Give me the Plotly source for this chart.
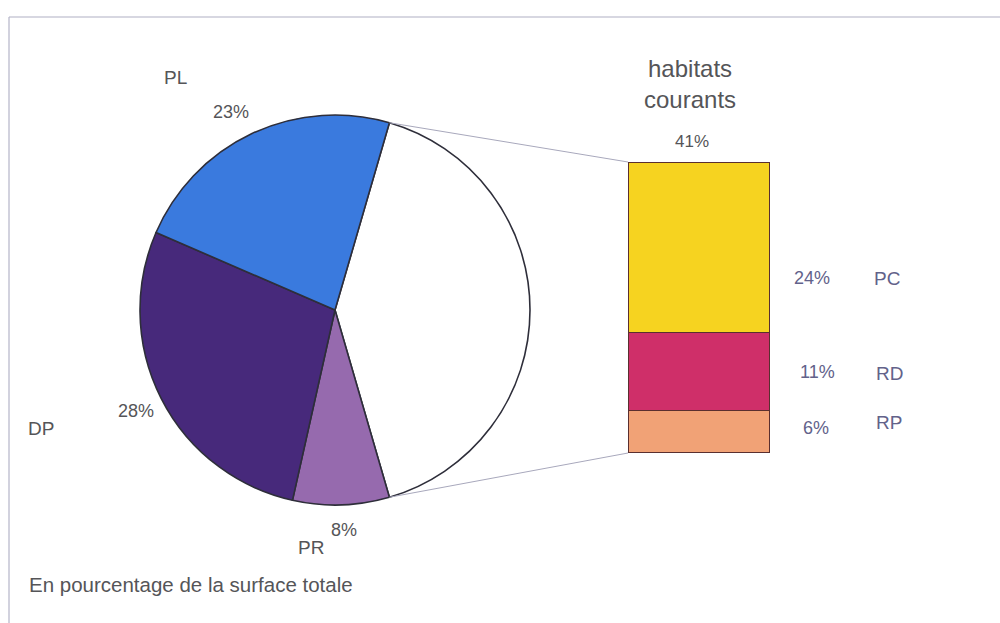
import math
import plotly.graph_objects as go

# Pie: share of total area; the first slice is the group detailed in the bar
pie_labels = ["habitats courants", "PR", "DP", "PL"]
pie_values = [41, 8, 28, 23]
pie_colors = ["#ffffff", "#966aae", "#47297b", "#3a7ade"]

# Breakdown of "habitats courants" (bottom to top)
bar_labels = ["RP", "RD", "PC"]
bar_values = [6, 11, 24]
bar_colors = ["#f1a276", "#cf2f69", "#f6d320"]

footnote = "En pourcentage de la surface totale"

W, H = 1000, 623
FONT = "Liberation Sans, Arial, sans-serif"
TXT = "#555558"
PCT = "#62628a"

def px(x):
    return x / W

def py(y):
    return 1 - y / H

# pie geometry (pixels)
cx, cy, r = 335, 310, 195
# bar geometry (pixels)
bx0, bx1, by0, by1 = 628, 770, 162, 453

total = sum(pie_values)
rot = 90 - pie_values[0] / total * 360 / 2

fig = go.Figure()
fig.add_trace(go.Pie(
    labels=pie_labels, values=pie_values, sort=False,
    direction="clockwise", rotation=rot,
    marker=dict(colors=pie_colors, line=dict(color="#2e2e3a", width=1.6)),
    textinfo="none", hoverinfo="label+percent", showlegend=False,
    domain=dict(x=[px(cx - r), px(cx + r)], y=[py(cy + r), py(cy - r)]),
))

for lab, val, col in zip(bar_labels, bar_values, bar_colors):
    fig.add_trace(go.Bar(
        x=[0], y=[val], width=1, name=lab, showlegend=False,
        marker=dict(color=col, line=dict(color="#5a2f2f", width=1.2)),
        xaxis="x", yaxis="y",
    ))

fig.update_layout(
    barmode="stack",
    width=W, height=H,
    margin=dict(l=0, r=0, t=0, b=0),
    paper_bgcolor="white", plot_bgcolor="rgba(0,0,0,0)",
    xaxis=dict(domain=[px(bx0), px(bx1)], range=[-0.5, 0.5], visible=False, fixedrange=True),
    yaxis=dict(domain=[py(by1), py(by0)], range=[0, sum(bar_values)], visible=False, fixedrange=True),
    font=dict(family=FONT, color=TXT),
)

# connector lines from the edges of the first slice to the bar corners
half = math.radians(pie_values[0] / total * 360 / 2)
for sgn, by in ((-1, by0), (1, by1)):
    ang = math.pi / 2 + sgn * half
    x0 = cx + r * math.sin(ang)
    y0 = cy - r * math.cos(ang)
    fig.add_shape(type="line", xref="paper", yref="paper",
                  x0=px(x0), y0=py(y0), x1=px(bx0), y1=py(by),
                  line=dict(color="#a8a8bc", width=1))

# frame
fig.add_shape(type="line", xref="paper", yref="paper",
              x0=px(9), y0=py(17), x1=1, y1=py(17), line=dict(color="#b0b0c4", width=1.2))
fig.add_shape(type="line", xref="paper", yref="paper",
              x0=px(9), y0=py(17), x1=px(9), y1=0, line=dict(color="#b4b4c8", width=1.2))

def note(x, y, text, size=19, color=TXT, xanchor="center"):
    fig.add_annotation(xref="paper", yref="paper", x=px(x), y=py(y), text=text,
                       showarrow=False, xanchor=xanchor, yanchor="middle",
                       font=dict(size=size, color=color, family=FONT))

# pie labels
val = dict(zip(pie_labels, pie_values))
note(175, 78, "PL")
note(231, 112, f"{val['PL']}%", size=18)
note(41, 428, "DP")
note(136, 411, f"{val['DP']}%", size=18)
note(311, 547, "PR")
note(344, 530, f"{val['PR']}%", size=18)

# bar header
note(690, 84, "habitats<br>courants", size=24)
note(692, 142, f"{sum(bar_values)}%", size=17)

# bar labels
bval = dict(zip(bar_labels, bar_values))
note(812, 278, f"{bval['PC']}%", size=18, color=PCT)
note(872, 278, "PC", color=PCT, xanchor="left")
note(817, 372, f"{bval['RD']}%", size=18, color=PCT)
note(874, 373, "RD", color=PCT, xanchor="left")
note(816, 428, f"{bval['RP']}%", size=18, color=PCT)
note(874, 422, "RP", color=PCT, xanchor="left")

note(27, 584, footnote, size=20.5, xanchor="left")

fig.write_html("out.html")
